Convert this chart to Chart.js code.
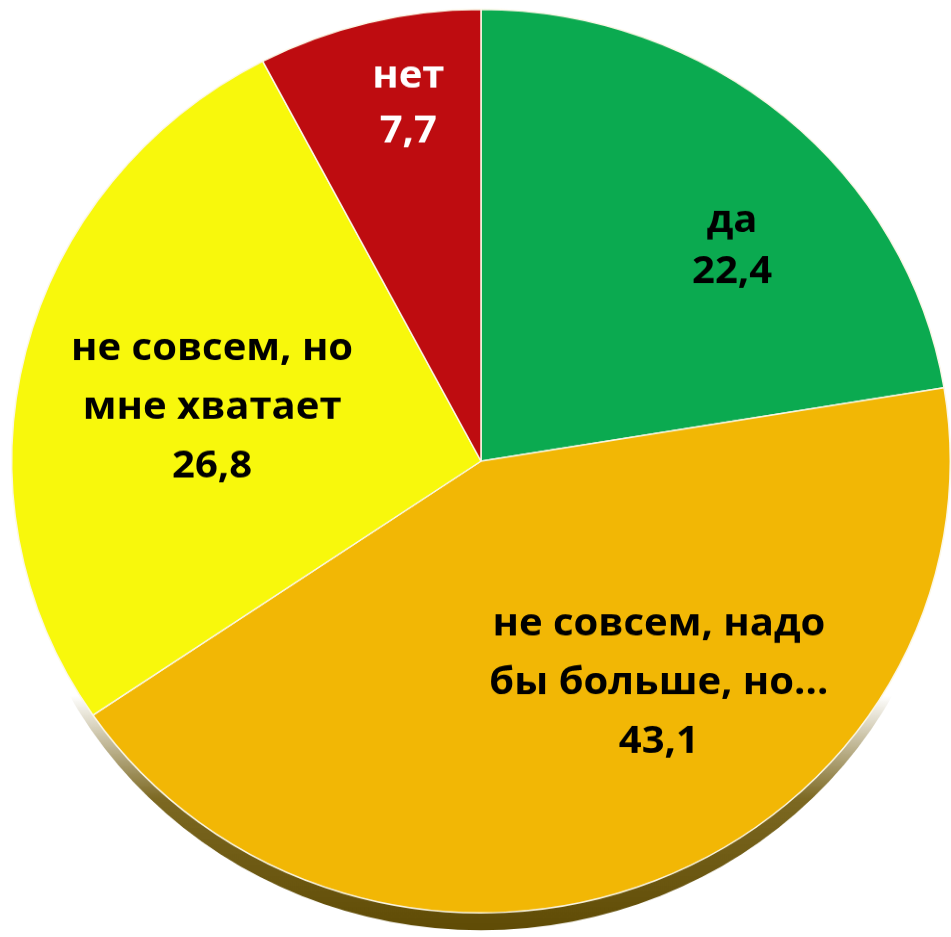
<!DOCTYPE html>
<html>
<head>
<meta charset="utf-8">
<script src="https://cdn.jsdelivr.net/npm/chart.js@4.4.1/dist/chart.umd.min.js"></script>
<style>
  html, body { margin: 0; padding: 0; background: #ffffff; overflow: hidden; }
  #wrap { width: 951px; height: 974px; transform: scaleY(0.9627); transform-origin: 0 0; }
  canvas { display: block; }
</style>
</head>
<body>
<div id="wrap"><canvas id="c" width="951" height="974"></canvas></div>
<script>
// ---- data ----
const categories = ['да', 'не совсем, надо бы больше, но...', 'не совсем, но мне хватает', 'нет'];
const labelLines = [
  ['да'],
  ['не совсем, надо', 'бы больше, но...'],
  ['не совсем, но', 'мне хватает'],
  ['нет']
];
const values = [22.4, 43.1, 26.8, 7.7];
const valueLabels = ['22,4', '43,1', '26,8', '7,7'];

// ---- styles ----
const sliceColors = ['#0BAA50', '#F2B705', '#F8F80C', '#BE0C10'];
const textColors = ['#000000', '#000000', '#000000', '#ffffff'];

const shadowPlugin = {
  id: 'pieShadow',
  beforeDatasetsDraw(chart) {
    const arc = chart.getDatasetMeta(0).data[0];
    if (!arc) return;
    const ctx = chart.ctx;
    const r = arc.outerRadius;
    const off = 18;
    ctx.save();
    const g = ctx.createLinearGradient(0, arc.y, 0, arc.y + r + off);
    g.addColorStop(0, 'rgba(110,88,10,0)');
    g.addColorStop(0.5, 'rgba(110,88,10,0)');
    g.addColorStop(0.72, 'rgba(110,88,10,0.9)');
    g.addColorStop(1, 'rgba(95,75,5,1)');
    ctx.fillStyle = g;
    ctx.beginPath();
    ctx.arc(arc.x, arc.y + off, r, 0, Math.PI * 2);
    ctx.fill();
    ctx.restore();
  }
};

const labelPlugin = {
  id: 'sliceLabels',
  afterDatasetsDraw(chart, args, opts) {
    const meta = chart.getDatasetMeta(0);
    const ctx = chart.ctx;
    ctx.save();
    ctx.font = opts.font;
    ctx.textAlign = 'center';
    ctx.textBaseline = 'alphabetic';
    meta.data.forEach((arc, i) => {
      const r = arc.outerRadius;
      const p = opts.anchors[i];
      const x = arc.x + p[0] * r;
      let y = arc.y + p[1] * r;
      const lines = labelLines[i].concat([valueLabels[i]]);
      ctx.fillStyle = textColors[i];
      lines.forEach((t, k) => {
        ctx.fillText(t, x, y + k * opts.lineHeights[i]);
      });
    });
    ctx.restore();
  }
};

new Chart(document.getElementById('c'), {
  type: 'pie',
  data: {
    labels: categories,
    datasets: [{
      data: values,
      backgroundColor: sliceColors,
      borderColor: '#fbf7e6',
      borderWidth: 1.5
    }]
  },
  options: {
    responsive: false,
    animation: false,
    layout: { padding: { left: 11, right: 0, top: 9, bottom: 25 } },
    plugins: {
      legend: { display: false },
      tooltip: { enabled: false },
      sliceLabels: {
        font: 'bold 40px "Open Sans"',
        anchors: [[0.535, -0.507], [0.379, 0.385], [-0.573, -0.2235], [-0.155, -0.8275]],
        lineHeights: [53, 61.3, 60.8, 57.1]
      }
    }
  },
  plugins: [shadowPlugin, labelPlugin]
});
</script>
</body>
</html>
